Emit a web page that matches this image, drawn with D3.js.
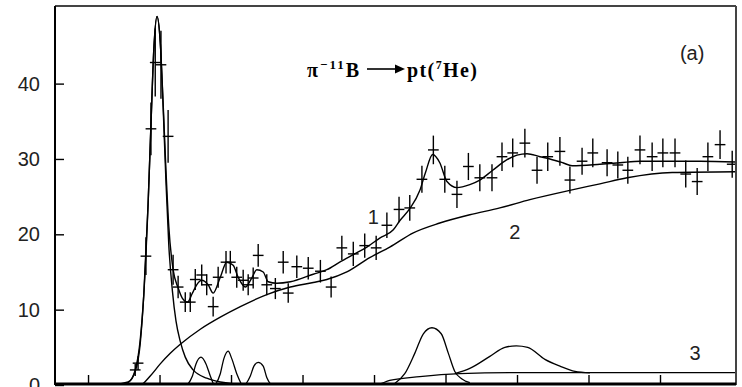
<!DOCTYPE html>
<html>
<head>
<meta charset="utf-8">
<script src="https://cdn.jsdelivr.net/npm/d3@7"></script>
<style>
body { margin: 0; background: #fff; }
.lbl { font-family: "Liberation Sans Narrow", "Arial Narrow", "Liberation Sans", sans-serif; font-size: 20px; fill: #222; }
.ttl { font-family: "Liberation Serif", "Times New Roman", serif; font-weight: bold; font-size: 20px; fill: #000; }
</style>
</head>
<body>
<div id="chart"></div>
<script>
////////////////////////////////////////////////////////////
// DATA
////////////////////////////////////////////////////////////
var yTicks = [0, 10, 20, 30, 40];
var xTicks = [10, 20, 30, 40, 50, 60, 70, 80, 90];

// measured points (crosses)
var pointX = [16.6, 17.0, 18.1, 18.8, 19.4, 20.2, 21.2, 21.9, 22.6, 23.6,
              24.3, 25.0, 25.9, 26.6, 27.5, 28.2, 29.3, 29.9, 30.8, 31.7,
              32.4, 33.1, 33.8, 35.0, 36.2, 37.3, 38.0, 39.2, 40.8, 42.5,
              44.0, 45.5, 47.1, 48.7, 50.3, 51.8, 53.5, 55.0, 56.7, 58.3,
              59.9, 61.6, 63.2, 64.8, 66.5, 67.9, 69.4, 71.1, 72.8, 74.3,
              76.0, 77.4, 79.1, 80.6, 82.6, 84.1, 85.5, 87.2, 88.9, 90.4,
              92.1, 93.6, 95.2, 96.7, 98.4, 100.1];
var pointY = [2.0, 2.9, 17.1, 34.0, 42.8, 42.5, 33.0, 15.3, 13.0, 11.0,
              11.0, 14.0, 14.6, 13.3, 10.4, 14.3, 16.3, 16.3, 14.3, 13.9,
              13.3, 14.2, 17.2, 13.3, 12.8, 16.3, 12.2, 15.7, 15.5, 15.1,
              13.0, 18.2, 17.4, 18.5, 18.2, 21.2, 23.3, 23.5, 27.3, 31.2,
              27.3, 25.3, 29.0, 27.5, 27.5, 30.3, 30.8, 32.1, 28.5, 30.3,
              31.0, 27.2, 29.7, 30.8, 29.5, 29.2, 28.5, 31.2, 30.3, 30.8,
              30.8, 28.0, 27.0, 30.3, 31.9, 29.3];
var pointErr = [0.8, 0.9, 2.5, 3.5, 4.5, 4.5, 3.5, 2.0, 1.5, 1.3,
                1.3, 1.4, 1.4, 1.4, 1.3, 1.4, 1.5, 1.5, 1.4, 1.4,
                1.4, 1.4, 1.5, 1.4, 1.4, 1.5, 1.3, 1.5, 1.5, 1.5,
                1.4, 1.6, 1.6, 1.6, 1.6, 1.7, 1.7, 1.7, 1.8, 1.9,
                1.8, 1.8, 1.8, 1.8, 1.8, 1.9, 1.9, 1.9, 1.8, 1.9,
                1.9, 1.8, 1.8, 1.9, 1.8, 1.8, 1.8, 1.9, 1.9, 1.9,
                1.9, 1.8, 1.8, 1.9, 1.9, 1.8];
var binHalf = 0.75;

// curve 1: total fit
var totalX = [5.4, 14.5, 15.6, 16.6, 17.3, 17.8, 18.4, 18.8, 19.2, 19.65,
              20.1, 20.5, 20.9, 21.3, 21.9, 22.6, 23.2, 23.9, 24.6, 25.2,
              25.9, 26.8, 27.5, 28.5, 29.4, 30.3, 31.0, 32.0, 32.9, 33.6,
              34.5, 35.2, 36.4, 38.3, 41.5, 43.4, 45.2, 47.1, 49.0, 50.8,
              52.7, 53.6, 55.0, 56.4, 57.2, 58.2, 59.2, 60.2, 61.6, 63.4,
              64.8, 66.6, 68.6, 70.0, 71.4, 73.2, 74.6, 76.4, 77.7, 81.6,
              84.4, 87.2, 95.6, 100.6];
var totalY = [0, 0, 0.3, 2.0, 6.0, 12, 24, 34.5, 44.5, 48.9,
              45.5, 37.5, 28.5, 21, 15.3, 12.9, 11.5, 11.0, 12.2, 13.3,
              13.9, 13.3, 12.2, 14.3, 16.3, 15.9, 14.3, 13.0, 14.2, 15.3,
              15.0, 13.7, 13.5, 13.7, 14.7, 15.3, 16.3, 17.3, 18.3, 19.5,
              20.6, 21.8, 23.4, 25.8, 28.2, 30.6, 29.5, 27.0, 26.2, 26.6,
              27.2, 28.5, 29.9, 30.5, 30.7, 30.3, 30.0, 29.5, 29.1, 29.3,
              29.5, 29.7, 29.7, 29.6];

// curve 2: smooth background
var bgX = [5.4, 17.3, 18.7, 20.1, 21.5, 22.9, 25.7, 28.5, 31.3, 35.0,
           38.3, 41.5, 43.4, 46.2, 49.4, 52.2, 55.5, 59.2, 63.4, 67.6,
           71.8, 77.7, 81.6, 85.4, 91.7, 100.6];
var bgY = [0, 0, 1.2, 2.8, 4.2, 5.4, 7.4, 9.0, 10.4, 12.0,
           13.0, 13.6, 14.0, 15.0, 16.9, 18.3, 20.2, 21.5, 22.6, 23.5,
           24.6, 25.9, 26.7, 27.5, 28.2, 28.3];

// curve 3: flat component near zero
var c3X = [5.4, 50.1, 52.2, 56.4, 62.0, 70.4, 100.6];
var c3Y = [0, 0, 0.6, 1.1, 1.5, 1.65, 1.65];

// ground state peak
var peakX = [5.4, 13.1, 15.6, 16.6, 17.3, 17.8, 18.4, 18.8, 19.2, 19.65,
             20.1, 20.5, 20.9, 21.3, 21.8, 22.3, 22.9, 23.6, 24.7, 26.6,
             28.5, 32.0, 100.6];
var peakY = [0, 0, 0.4, 1.8, 5.5, 12, 24, 34.5, 44.5, 48.9,
             45.5, 37, 27, 18.5, 12.5, 8.5, 5.8, 3.7, 2.0, 0.9,
             0.4, 0.1, 0];

// small resonance peaks
var smallPeaks = [
    {x: [23.9, 24.6, 25.1, 25.8, 26.5, 27.1, 27.6], y: [0, 1.2, 2.8, 3.7, 2.8, 1.2, 0]},
    {x: [27.8, 28.5, 29.0, 29.6, 30.1, 30.8, 31.5], y: [0, 1.5, 3.5, 4.5, 3.5, 1.5, 0]},
    {x: [32.0, 32.7, 33.2, 33.8, 34.5, 35.0, 35.6], y: [0, 1.2, 2.5, 3.0, 2.5, 1.0, 0]},
    {x: [52.9, 54.3, 55.7, 56.9, 58.1, 59.4, 60.4, 61.3, 62.3, 63.4],
     y: [0.2, 1.5, 4.2, 6.8, 7.6, 6.8, 4.2, 1.8, 0.8, 0.3]},
    {x: [61.3, 63.4, 66.2, 68.3, 69.9, 71.5, 73.9, 76.0, 78.1, 80.2],
     y: [1.5, 2.2, 3.8, 5.0, 5.2, 5.0, 3.4, 2.5, 1.8, 1.6]}
];

// curve labels
var curveLabels = [
    {text: "1", x: 49.9, y: 22.3},
    {text: "2", x: 69.7, y: 20.3},
    {text: "3", x: 94.9, y: 4.25},
    {text: "(a)", x: 94.5, y: 44.1}
];

////////////////////////////////////////////////////////////
// DRAWING
////////////////////////////////////////////////////////////
var margin = {top: 6, right: 6, bottom: 2, left: 55};
var width = 742 - margin.left - margin.right;
var height = 387 - margin.top - margin.bottom;

var x = d3.scaleLinear().domain([5.38, 100.63]).range([0, width]);
var y = d3.scaleLinear().domain([0, 50.3]).range([height, 0]);

var svg = d3.select("#chart").append("svg")
    .attr("width", 742)
    .attr("height", 387);

var g = svg.append("g")
    .attr("transform", "translate(" + margin.left + "," + margin.top + ")");

g.append("clipPath")
    .attr("id", "plotclip")
  .append("rect")
    .attr("width", width)
    .attr("height", height);

var plot = g.append("g").attr("clip-path", "url(#plotclip)");

var line = d3.line()
    .x(function(d) { return x(d[0]); })
    .y(function(d) { return y(d[1]); })
    .curve(d3.curveMonotoneX);

function drawCurve(xs, ys, w) {
    var pts = xs.map(function(v, i) { return [v, ys[i]]; });
    plot.append("path")
        .datum(pts)
        .attr("fill", "none")
        .attr("stroke", "#000")
        .attr("stroke-width", w)
        .attr("stroke-linejoin", "round")
        .attr("d", line);
}

drawCurve(c3X, c3Y, 1.3);
smallPeaks.forEach(function(p) { drawCurve(p.x, p.y, 1.3); });
drawCurve(peakX, peakY, 1.4);
drawCurve(bgX, bgY, 1.4);
drawCurve(totalX, totalY, 1.4);

// crosses: vertical error bar + horizontal bin bar
var crosses = plot.selectAll(".pt")
    .data(pointX.map(function(v, i) { return {x: v, y: pointY[i], e: pointErr[i]}; }))
    .enter().append("g")
    .attr("class", "pt");

crosses.append("line")
    .attr("x1", function(d) { return x(d.x); })
    .attr("x2", function(d) { return x(d.x); })
    .attr("y1", function(d) { return y(d.y - d.e); })
    .attr("y2", function(d) { return y(d.y + d.e); })
    .attr("stroke", "#000")
    .attr("stroke-width", 1.4);

crosses.append("line")
    .attr("x1", function(d) { return x(d.x - binHalf); })
    .attr("x2", function(d) { return x(d.x + binHalf); })
    .attr("y1", function(d) { return y(d.y); })
    .attr("y2", function(d) { return y(d.y); })
    .attr("stroke", "#000")
    .attr("stroke-width", 1.4);

// axes: ticks point inward
var yAxis = g.append("g")
    .call(d3.axisLeft(y).tickValues(yTicks).tickSize(-9).tickPadding(15));
yAxis.select(".domain").remove();
yAxis.selectAll("line").attr("stroke", "#000").attr("stroke-width", 1.4);
yAxis.selectAll("text").attr("class", "lbl").attr("font-size", null).attr("font-family", null);

var xAxis = g.append("g")
    .attr("transform", "translate(0," + height + ")")
    .call(d3.axisBottom(x).tickValues(xTicks).tickSize(-10).tickFormat(""));
xAxis.select(".domain").remove();
xAxis.selectAll("line").attr("stroke", "#000").attr("stroke-width", 1.4);

// frame
g.append("line")
    .attr("x1", 0).attr("x2", width).attr("y1", 0).attr("y2", 0)
    .attr("stroke", "#444").attr("stroke-width", 2);
g.append("line")
    .attr("x1", width).attr("x2", width).attr("y1", 0).attr("y2", height)
    .attr("stroke", "#444").attr("stroke-width", 2);
g.append("line")
    .attr("x1", 0).attr("x2", 0).attr("y1", 0).attr("y2", height)
    .attr("stroke", "#000").attr("stroke-width", 2);
g.append("line")
    .attr("x1", 0).attr("x2", width).attr("y1", height - 1).attr("y2", height - 1)
    .attr("stroke", "#000").attr("stroke-width", 3);

// curve labels
g.selectAll(".clbl")
    .data(curveLabels)
    .enter().append("text")
    .attr("class", "lbl")
    .attr("x", function(d) { return x(d.x); })
    .attr("y", function(d) { return y(d.y); })
    .attr("text-anchor", "middle")
    .attr("dy", "0.35em")
    .text(function(d) { return d.text; });

// reaction title
var t1 = svg.append("text").attr("class", "ttl").attr("x", 307).attr("y", 77)
    .attr("textLength", 52).attr("lengthAdjust", "spacing");
t1.append("tspan").text("\u03C0");
t1.append("tspan").attr("font-size", "13px").attr("dy", -8).text("\u221211");
t1.append("tspan").attr("dy", 8).text("B");

svg.append("line")
    .attr("x1", 367).attr("x2", 398).attr("y1", 69).attr("y2", 69)
    .attr("stroke", "#000").attr("stroke-width", 1.6);
svg.append("path")
    .attr("d", "M395,64.5 L405,69 L395,73.5 Z")
    .attr("fill", "#000");

var t2 = svg.append("text").attr("class", "ttl").attr("x", 407).attr("y", 77)
    .attr("textLength", 70).attr("lengthAdjust", "spacing");
t2.append("tspan").text("pt(");
t2.append("tspan").attr("font-size", "12px").attr("dy", -8).text("7");
t2.append("tspan").attr("dy", 8).text("He)");
</script>
</body>
</html>
